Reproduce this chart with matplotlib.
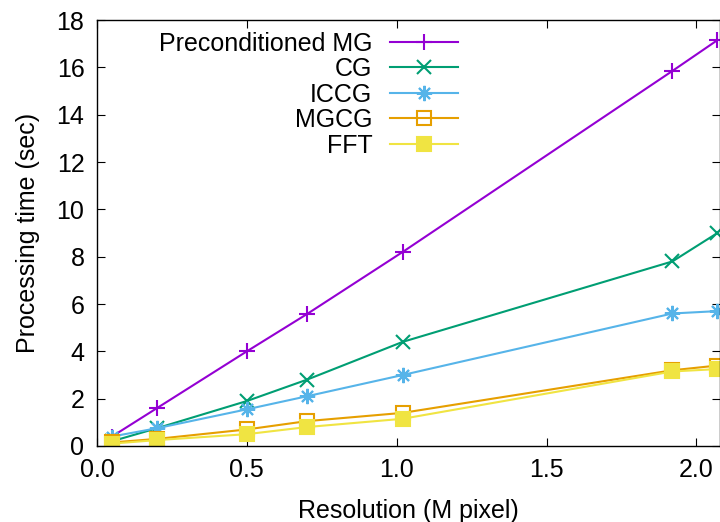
import matplotlib
matplotlib.use("Agg")
import matplotlib.pyplot as plt

plt.rcParams['font.family'] = ['Liberation Sans', 'DejaVu Sans']

# resolution in megapixels
resolution = [0.05, 0.2, 0.5, 0.7, 1.02, 1.92, 2.07]

# processing time (sec)
pre_mg = [0.4, 1.6, 4.0, 5.57, 8.2, 15.85, 17.15]
cg = [0.2, 0.75, 1.9, 2.8, 4.4, 7.8, 9.0]
iccg = [0.4, 0.75, 1.55, 2.1, 3.0, 5.6, 5.7]
mgcg = [0.15, 0.3, 0.7, 1.05, 1.4, 3.2, 3.4]
fft = [0.1, 0.25, 0.5, 0.8, 1.15, 3.15, 3.25]

labels = ["Preconditioned MG", "CG", "ICCG", "MGCG", "FFT"]

fig = plt.figure(figsize=(7.2, 5.22), dpi=100)
ax = fig.add_axes([0.1347, 0.1456, 0.865, 0.816])

ax.plot(resolution, pre_mg, color="#9400D3", lw=1.5, marker="+", ms=11, mew=1.5, label=labels[0])
ax.plot(resolution, cg, color="#009E73", lw=1.5, marker="x", ms=10, mew=1.5, label=labels[1])
ax.plot(resolution, iccg, color="#56B4E9", lw=1.5, marker=(8, 2, 0), ms=11, mew=1.5, label=labels[2])
ax.plot(resolution, mgcg, color="#E69F00", lw=1.5, marker="s", ms=10, mew=1.5, mfc="none", label=labels[3])
ax.plot(resolution, fft, color="#F0E442", lw=1.5, marker="s", ms=10, mew=1.5, label=labels[4])

ax.set_xlim(0, 2.078)
ax.set_ylim(0, 18)
ax.set_xticks([0.0, 0.5, 1.0, 1.5, 2.0])
ax.set_xticklabels(["0.0", "0.5", "1.0", "1.5", "2.0"])
ax.set_yticks(range(0, 19, 2))
ax.tick_params(direction="in", top=True, right=True, labelsize=18, length=6, width=0.8, pad=9)
for s in ax.spines.values():
    s.set_linewidth(1.0)

ax.set_xlabel("Resolution (M pixel)", fontsize=18, labelpad=12)
ax.set_ylabel("Processing time (sec)", fontsize=18, labelpad=12)

leg = ax.legend(loc="upper right", bbox_to_anchor=(0.5795, 0.973), frameon=False, markerfirst=False,
                alignment="right", fontsize=18, handlelength=2.7, labelspacing=0.06,
                handletextpad=0.72, borderaxespad=0.0, borderpad=0.0)
for t in leg.get_texts():
    t.set_ha("right")

fig.savefig("out.png", dpi=100)
